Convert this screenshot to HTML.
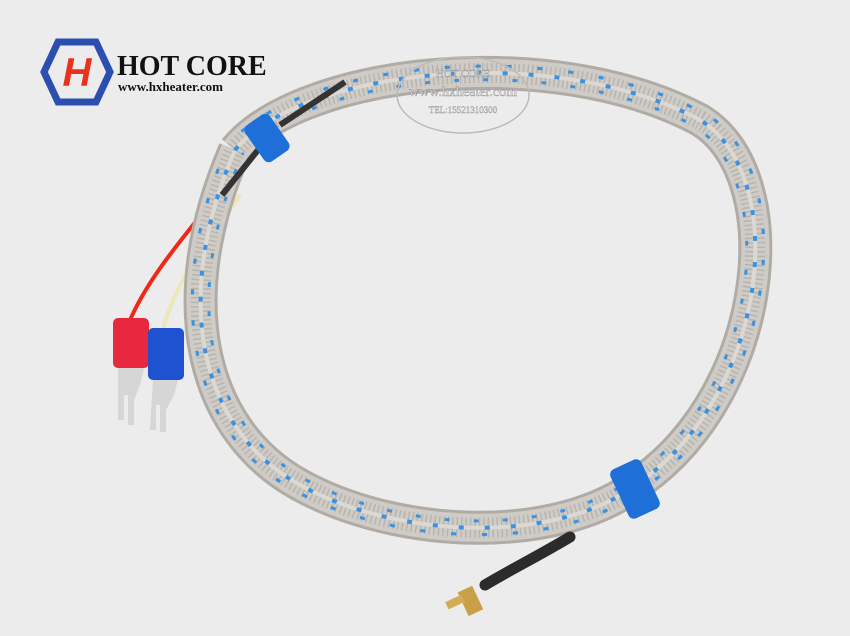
<!DOCTYPE html>
<html><head><meta charset="utf-8"><style>
html,body{margin:0;padding:0;background:#ececec;}
svg{display:block}
</style></head><body>
<svg width="850" height="636" viewBox="0 0 850 636" xmlns="http://www.w3.org/2000/svg">
<rect width="850" height="636" fill="#ececec"/>
<defs>
<path id="loop" d="M235,150 C300,70 550,40 700,120 C790,175 770,390 640,482 C560,545 400,540 300,485 C200,430 170,300 235,150"/>
</defs>
<polygon points="58,42 96,42 110,72 96,102 58,102 44,72" fill="none" stroke="#2a4fb0" stroke-width="7"/>
<text x="77" y="86" text-anchor="middle" font-family="Liberation Sans,sans-serif" font-weight="bold" font-style="italic" font-size="40" fill="#e8321e">H</text>
<text x="117" y="75" font-family="Liberation Serif,serif" font-weight="bold" font-size="28" fill="#111">HOT CORE</text>
<text x="118" y="91" font-family="Liberation Serif,serif" font-weight="bold" font-size="13" fill="#111">www.hxheater.com</text>
<path d="M232,175 C200,220 150,270 128,325" fill="none" stroke="#f02818" stroke-width="4"/>
<path d="M240,195 C210,240 175,280 163,330" fill="none" stroke="#ece6b8" stroke-width="4"/>
<g fill="none">
<use href="#loop" stroke="#b0aca5" stroke-width="34"/>
<use href="#loop" stroke="#cfccc7" stroke-width="28"/>
<use href="#loop" stroke="#a8a49d" stroke-width="20" stroke-dasharray="1.5 3" opacity="0.6"/>
<use href="#loop" stroke="#dcd9d5" stroke-width="4"/>
<use href="#loop" stroke="#3a92e0" stroke-width="4" stroke-dasharray="5 21" transform="translate(0,0)"/>
<path d="M235,150 C300,70 550,40 700,120 C790,175 770,390 640,482 C560,545 400,540 300,485 C200,430 170,300 235,150" stroke="#3a92e0" stroke-width="3" stroke-dasharray="5 25" stroke-dashoffset="11" transform="translate(475 300) scale(1.03) translate(-475 -300)"/>
<path d="M235,150 C300,70 550,40 700,120 C790,175 770,390 640,482 C560,545 400,540 300,485 C200,430 170,300 235,150" stroke="#3a92e0" stroke-width="3" stroke-dasharray="5 25" stroke-dashoffset="3" transform="translate(475 300) scale(0.97) translate(-475 -300)"/>
</g>
<path d="M222,195 L258,150 M280,125 L345,82" stroke="#333" stroke-width="6"/>
<rect x="252" y="116" width="30" height="44" rx="6" fill="#1e6fd8" transform="rotate(-35 267 138)"/>
<rect x="618" y="462" width="34" height="54" rx="6" fill="#1e6fd8" transform="rotate(-25 635 489)"/>
<path d="M570,537 C540,555 510,570 485,585" stroke="#2b2b2b" stroke-width="11" fill="none" stroke-linecap="round"/>
<rect x="462" y="588" width="16" height="26" fill="#c9a048" transform="rotate(-25 470 600)"/>
<rect x="446" y="598" width="18" height="8" fill="#d4ac55" transform="rotate(-25 455 602)"/>
<rect x="113" y="318" width="36" height="50" rx="5" fill="#e8283e"/>
<rect x="148" y="328" width="36" height="52" rx="5" fill="#1e52d0"/>
<path d="M118,368 L144,368 L140,385 L134,400 L134,425 L128,425 L128,395 L124,395 L124,420 L118,420 Z" fill="#d6d6d6"/>
<path d="M153,380 L178,380 L174,395 L166,410 L166,432 L160,432 L160,405 L156,405 L156,430 L150,430 Z" fill="#d6d6d6"/>
<ellipse cx="463" cy="95" rx="66" ry="38" fill="none" stroke="#bbb" stroke-width="1.5"/>
<text x="463" y="77" text-anchor="middle" font-family="Liberation Serif,serif" font-size="11" fill="#eee" stroke="#999" stroke-width="0.5">HOT CORE</text>
<text x="463" y="96" text-anchor="middle" font-family="Liberation Serif,serif" font-size="14" fill="#eee" stroke="#999" stroke-width="0.5">www.hxheater.com</text>
<text x="463" y="113" text-anchor="middle" font-family="Liberation Serif,serif" font-size="9" fill="#eee" stroke="#999" stroke-width="0.4">TEL:15521310300</text>
</svg>
</body></html>
